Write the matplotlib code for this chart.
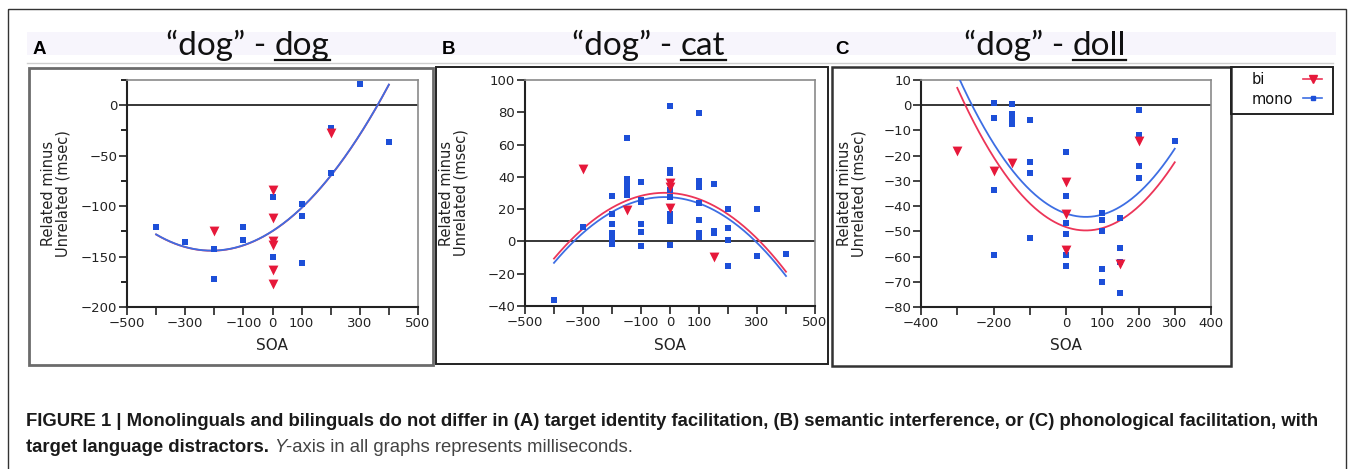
import numpy as np
import matplotlib
matplotlib.use("Agg")
import matplotlib.pyplot as plt
from matplotlib.patches import Rectangle
from matplotlib.ticker import MultipleLocator

W, H = 1354, 469

# ── Panel A: "dog" - dog (identity) ──────────────────────────────────────────
a_mono_soa  = [-400, -300, -200, -200, -100, -100, 0, 0, 100, 100, 100, 200, 200, 300, 400]
a_mono_diff = [-121, -136, -143, -172, -121, -134, -91, -150, -98, -110, -156, -23, -67, 21, -36]
a_bi_soa    = [-200, 0, 0, 0, 0, 0, 0, 200]
a_bi_diff   = [-125, -84, -112, -135, -139, -163, -177, -28]

# ── Panel B: "dog" - cat (semantic) ──────────────────────────────────────────
b_mono_soa  = [-400, -300,
               -200, -200, -200, -200, -200, -200, -200,
               -150, -150, -150, -150, -150, -150,
               -100, -100, -100, -100, -100, -100,
               0, 0, 0, 0, 0, 0, 0, 0, 0,
               100, 100, 100, 100, 100, 100, 100, 100,
               150, 150, 150,
               200, 200, 200, 200,
               300, 300, 400]
b_mono_diff = [-36, 9,
               28, 17, 11, 5, 3, 0, -1.5,
               64, 38.5, 36, 33.5, 31.5, 29,
               37, 25.5, 24.5, 11, 6, -3,
               84, 44, 42.5, 32, 27.5, 17, 15, 12.5, -2.5,
               79.5, 37.5, 35, 33.5, 24, 13, 5, 3,
               35.5, 6.5, 5.5,
               20, 8.5, 1, -15,
               20, -9, -8]
b_bi_soa    = [-300, -150, 0, 0, 0, 150]
b_bi_diff   = [45, 19.5, 36, 33.5, 21, -9.5]

# ── Panel C: "dog" - doll (phonological) ─────────────────────────────────────
c_mono_soa  = [-200, -200, -200, -200,
               -150, -150, -150, -150,
               -100, -100, -100, -100,
               0, 0, 0, 0, 0, 0,
               100, 100, 100, 100, 100,
               150, 150, 150, 150,
               200, 200, 200, 200,
               300]
c_mono_diff = [1, -5, -33.5, -59.5,
               0.5, -3.5, -5, -7.5,
               -6, -22.7, -26.7, -52.7,
               -18.6, -36, -46.8, -51, -59.5, -63.6,
               -42.8, -45.7, -50, -64.8, -70,
               -44.6, -56.6, -62, -74.4,
               -2, -12, -24, -29,
               -14]
c_bi_soa    = [-300, -200, -150, 0, 0, 0, 150, 200]
c_bi_diff   = [-18, -26, -23, -30.5, -43.3, -57.3, -63, -14]

titles   = ["dog", "cat", "doll"]
letters  = ["A", "B", "C"]
caption1 = ("FIGURE 1 | Monolinguals and bilinguals do not differ in (A) target identity "
            "facilitation, (B) semantic interference, or (C) phonological facilitation, with")

SQ_BLUE  = "#1d4fd8"
TRI_RED  = "#e6183a"
FIT_BLUE = "#3d6ee3"
FIT_RED  = "#ec3558"

CAP_FONT = ["Liberation Sans Narrow", "Liberation Sans", "DejaVu Sans"]


def quad_fit(mono_x, mono_y, bi_x, bi_y):
    """Quadratic in SOA, shared curvature, separate intercept for the bilinguals."""
    x = np.r_[mono_x, bi_x].astype(float)
    y = np.r_[mono_y, bi_y].astype(float)
    g = np.r_[np.zeros(len(mono_x)), np.ones(len(bi_x))]
    X = np.column_stack([np.ones_like(x), g, x, x ** 2])
    return np.linalg.lstsq(X, y, rcond=None)[0]


fig = plt.figure(figsize=(W / 100, H / 100), dpi=100)
bg = fig.add_axes([0, 0, 1, 1])
bg.set_xlim(0, W); bg.set_ylim(H, 0); bg.axis("off")

# frame, title band and panel boxes (pixel coordinates)
bg.add_patch(Rectangle((8, 9), 1338, 470, fill=False, lw=1, ec="#333333"))
bg.add_patch(Rectangle((27, 32), 1309, 23, lw=0, fc="#f7f5fc"))
bg.plot([27, 1333], [63.5, 63.5], color="#cfcfcf", lw=1)
bg.add_patch(Rectangle((29, 68), 404, 297, fill=False, lw=2, ec="#6b6b6b"))
bg.add_patch(Rectangle((436, 67), 392, 297, fill=False, lw=1.4, ec="#222222"))
bg.add_patch(Rectangle((832, 67), 399, 299, fill=False, lw=1.8, ec="#333333"))


def px_axes(l, t, r, b):
    return fig.add_axes([l / W, 1 - b / H, (r - l) / W, (b - t) / H])


def draw_panel(ax, mono_x, mono_y, bi_x, bi_y, xlim, ylim, xticks, xlabels, ystep, yminor=None):
    coef = quad_fit(mono_x, mono_y, bi_x, bi_y)
    xs = np.linspace(min(min(mono_x), min(bi_x)), max(max(mono_x), max(bi_x)), 300)
    mono_fit = coef[0] + coef[2] * xs + coef[3] * xs ** 2
    ax.axhline(0, color="black", lw=1.1, zorder=1)
    ax.plot(xs, mono_fit + coef[1], color=FIT_RED, lw=1.3, zorder=2)
    ax.plot(xs, mono_fit, color=FIT_BLUE, lw=1.3, zorder=3)
    ax.scatter(mono_x, mono_y, marker="s", s=24, color=SQ_BLUE, lw=0, zorder=4)
    ax.scatter(bi_x, bi_y, marker="v", s=50, color=TRI_RED, lw=0, zorder=5)
    ax.set_xlim(*xlim); ax.set_ylim(*ylim)
    ax.set_xticks(xticks)
    ax.set_xticklabels(xlabels)
    ax.yaxis.set_major_locator(MultipleLocator(ystep))
    if yminor:
        ax.yaxis.set_minor_locator(MultipleLocator(yminor))
    ax.tick_params(axis="both", which="major", direction="out", length=6, width=1.2,
                   labelsize=9.5, pad=1, colors="#222222")
    ax.tick_params(axis="y", which="minor", direction="out", length=4, width=1.2)
    for side in ("left", "bottom"):
        ax.spines[side].set_linewidth(1.5)
        ax.spines[side].set_color("#222222")
    for side in ("top", "right"):
        ax.spines[side].set_linewidth(1.2)
        ax.spines[side].set_color("#8a8a8a")


ax_a = px_axes(127, 80, 418, 307)
draw_panel(ax_a, a_mono_soa, a_mono_diff, a_bi_soa, a_bi_diff, (-500, 500), (-200, 25),
           np.arange(-500, 501, 100),
           ["−500", "", "−300", "", "−100", "0", "100", "", "300", "", "500"], 50, 25)

ax_b = px_axes(525, 80, 815, 306)
draw_panel(ax_b, b_mono_soa, b_mono_diff, b_bi_soa, b_bi_diff, (-500, 500), (-40, 100),
           np.arange(-500, 501, 100),
           ["−500", "", "−300", "", "−100", "0", "100", "", "300", "", "500"], 20)

ax_c = px_axes(921, 80, 1211, 307)
draw_panel(ax_c, c_mono_soa, c_mono_diff, c_bi_soa, c_bi_diff, (-400, 400), (-80, 10),
           np.arange(-400, 401, 100),
           ["−400", "", "−200", "", "0", "100", "200", "300", "400"], 10)

# axis titles
for cx, ylab_x, (top, bot) in [(272, 56, (80, 307)), (670, 454, (80, 306)), (1066, 852, (80, 307))]:
    bg.text(cx, 346, "SOA", ha="center", va="center", fontsize=11, color="#222222")
    bg.text(ylab_x, (top + bot) / 2, "Related minus\nUnrelated (msec)", rotation=90,
            ha="center", va="center", fontsize=10.5, color="#222222", linespacing=1.0)

# panel letters and titles with underlined target word
for letter, lx in zip(letters, [33, 442, 835]):
    bg.text(lx, 49, letter, ha="left", va="center", fontsize=13.5, fontweight="bold",
            family=["Liberation Sans", "DejaVu Sans"])

renderer = fig.canvas.get_renderer()
inv = bg.transData.inverted()
for word, centre in zip(titles, [248, 649, 1045]):
    kw = dict(fontsize=24, family=["Lato", "DejaVu Sans"], va="baseline", color="#111111")
    probe = bg.text(0, 0, "\u201cdog\u201d - " + word, **kw)
    full_w = probe.get_window_extent(renderer).width
    probe.remove()
    x0 = centre - full_w / 2
    head = bg.text(x0, 55, "\u201cdog\u201d - ", ha="left", **kw)
    hb = head.get_window_extent(renderer)
    wx = inv.transform((hb.x1, 0))[0]
    tail = bg.text(wx, 55, word, ha="left", **kw)
    tb = tail.get_window_extent(renderer)
    wx1 = inv.transform((tb.x1, 0))[0]
    bg.plot([wx, wx1], [60.5, 60.5], color="#111111", lw=1.6)

# legend box
bg.add_patch(Rectangle((1231, 67), 102, 47, fill=False, lw=1.4, ec="#222222"))
bg.text(1252, 80, "bi", ha="left", va="center", fontsize=10.5, color="#111111")
bg.text(1252, 99, "mono", ha="left", va="center", fontsize=10.5, color="#111111")
bg.plot([1303, 1322], [79, 79], color=FIT_RED, lw=1.2)
bg.plot([1312.5], [79], marker="v", ms=6, color=TRI_RED, lw=0)
bg.plot([1303, 1322], [98, 98], color=FIT_BLUE, lw=1.2)
bg.plot([1312.5], [98], marker="s", ms=3.5, color=SQ_BLUE, lw=0)

# caption
bg.text(26, 421, caption1, ha="left", va="center", fontsize=13.3, fontweight="bold",
        family=CAP_FONT, color="#1a1a1a")
x = 26
for piece, weight, style, col in [("target language distractors. ", "bold", "normal", "#1a1a1a"),
                                   ("Y", "normal", "italic", "#444444"),
                                   ("-axis in all graphs represents milliseconds.", "normal", "normal", "#444444")]:
    t = bg.text(x, 447, piece, ha="left", va="center", fontsize=13.3, fontweight=weight,
                style=style, family=CAP_FONT, color=col)
    x = inv.transform((t.get_window_extent(renderer).x1, 0))[0]

fig.savefig("out.png", dpi=100)
